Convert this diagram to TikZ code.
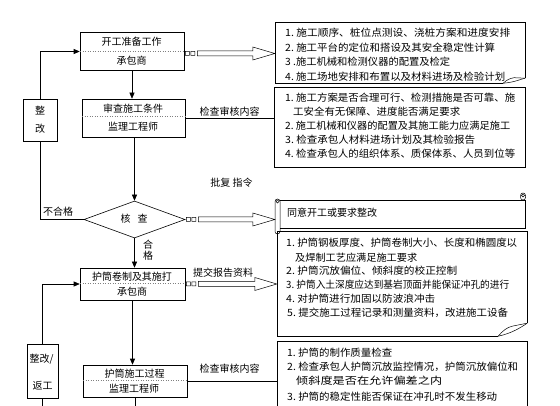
\documentclass[tikz,border=0pt]{standalone}
\usepackage{fontspec}
\setmainfont{Noto Sans CJK SC}
\usepackage{graphicx}
\usetikzlibrary{arrows.meta,shapes.geometric,calc}
\newcommand\fitto[2]{\resizebox{#1}{\height}{#2}}
\newcommand\hollowarrow[2]{%
  \draw[line width=0.5pt] let \p1=(#1), \p2=(#2) in
    (\x1+1pt,\y1-2pt) rectangle (\x1+5pt,\y1+2pt)
    (\x1+6.5pt,\y1-2pt) rectangle (\x1+10.5pt,\y1+2pt)
    (\x1+13pt,\y1+2.5pt) -- (\x2-22pt,\y1+2.5pt) -- (\x2-22pt,\y1+6.5pt) -- (\x2,\y1)
    -- (\x2-22pt,\y1-6.5pt) -- (\x2-22pt,\y1-2.5pt) -- (\x1+13pt,\y1-2.5pt) -- cycle;}
\tikzset{
  box/.style={draw, line width=0.6pt, inner sep=0pt},
  frame/.style={draw=none, inner sep=0pt},
  lbl/.style={font=\fontsize{10}{11}\selectfont, inner sep=0pt},
  ltxt/.style={font=\fontsize{10}{12}\selectfont, anchor=west, inner sep=0pt},
  arr/.style={-{Triangle[length=6pt,width=5pt]}, line width=0.6pt},
  ln/.style={line width=0.6pt},
  div/.style={gray, dotted, line width=0.5pt},
}
\begin{document}
\begin{tikzpicture}[x=1pt,y=-1pt]
\useasboundingbox (0,0) rectangle (560,406);
\clip (0,0) rectangle (560,406);
\fill[white] (0,0) rectangle (560,406);

% ---------- left column boxes ----------
\node[box, minimum width=104pt, minimum height=38pt] (A) at (132,51.5) {};
\draw[div] (80,51) -- (184,51);
\node[lbl] (A1) at (131.5,42) {开工准备工作};
\node[lbl] (A2) at (131.5,61) {承包商};

\node[box, minimum width=103pt, minimum height=38pt] (B) at (133.5,118) {};
\draw[div] (82,116) -- (185,116);
\node[lbl] (B1) at (133,108.5) {审查施工条件};
\node[lbl] (B2) at (133,127) {监理工程师};

\node[box, minimum width=34pt, minimum height=42pt] (Z1) at (40,120) {};
\node[lbl] (Z1a) at (40,111) {整};
\node[lbl] (Z1b) at (40,128.5) {改};

\node[box, shape=diamond, minimum width=101pt, minimum height=37pt, aspect=2.73] (Dm) at (134.5,219.5) {};
\node[lbl] (Dmt) at (134,219) {核\hspace{7pt}查};

\node[box, minimum width=105pt, minimum height=32pt] (C) at (132.5,284) {};
\draw[div] (80,283) -- (185,283);
\node[lbl] (C1) at (132,276.5) {护筒卷制及其施打};
\node[lbl] (C2) at (132,292) {承包商};

\node[box, minimum width=104pt, minimum height=32pt] (D) at (135,381) {};
\draw[div] (83,380) -- (187,380);
\node[lbl] (D1) at (134.5,373.5) {护筒施工过程};
\node[lbl] (D2) at (134,388.5) {监理工程师};

\node[box, minimum width=31pt, minimum height=54pt] (Z2) at (42.5,371) {};
\node[lbl] (Z2a) at (41.5,359) {整改/};
\node[lbl] (Z2b) at (42.5,386) {返工};

\coordinate (bot1) at (41,410);
\coordinate (bot2) at (135,410);

% ---------- left connectors ----------
\draw[arr] (A.south) -- (A.south |- B.north);
\draw[arr] (Dm.north |- B.south) -- (Dm.north);
\draw[arr] (Dm.south) -- (Dm.south |- C.north);
\draw[arr] (C.south) -- (C.south |- D.north);
\draw[ln] (D.south) -- (D.south |- bot2);
\draw[ln] (Dm.west) -| (Z1.south);
\draw[arr] (Z1.north) |- (A.west);
\draw[arr] (Z2.north) |- (C.west);
\draw[ln] (Z2.south) -- (Z2.south |- bot1);

\node[lbl] (ng) at (58,212) {不合格};
\node[lbl, align=center, font=\fontsize{10}{10.5}\selectfont] (ok) at (148,250) {合\\格};

% ---------- right boxes ----------
\node[frame, minimum width=250pt, minimum height=60pt] (R1) at (400,53) {};
\draw[ln] (R1.south east) ++(0,-5) coordinate (r1y) (R1.south east) ++(-22,0) coordinate (r1x);
\draw[ln] (r1x) -- (R1.south west) -- (R1.north west) -- (R1.north east) -- (r1y);
\draw[line width=0.5pt] (r1x) .. controls ($(r1x)+(12,-1)$) and ($(r1y)+(-5,1)$) .. (r1y);
\draw[line width=0.5pt] (r1x) .. controls ($(r1x)+(4,-4)$) and ($(r1x)+(8,-5)$) .. ($(r1x)+(11,-5.5)$) -- (r1y);

\node[box, minimum width=251pt, minimum height=80pt] (R2) at (399.5,127) {};

\node[frame, minimum width=250pt, minimum height=33pt] (R3) at (400,214.5) {};
\draw[ln] (280,200) -- (525,200) -- (525,228) -- (280,228);
\draw[line width=0.5pt, rounded corners=2.5pt] (275,199) rectangle (280,234);
\draw[line width=0.5pt] (277.5,201.5) circle (1.6);
\draw[line width=0.5pt, rounded corners=2.5pt] (520.5,193) rectangle (525.5,200);
\draw[line width=0.5pt] (523,195.5) circle (1.6);

\node[frame, minimum width=250pt, minimum height=104pt] (R4) at (402,284) {};
\draw (R4.south east) ++(0,-13) coordinate (r4y) (R4.south east) ++(-29,0) coordinate (r4x);
\draw[ln] (r4x) -- (R4.south west) -- (R4.north west) -- (R4.north east) -- (r4y);
\draw[line width=0.5pt] (r4x) .. controls ($(r4x)+(14,-3)$) and ($(r4y)+(-6,4)$) .. (r4y);
\draw[line width=0.5pt] (r4x) .. controls ($(r4x)+(4,-5)$) and ($(r4x)+(9,-9)$) .. ($(r4x)+(14,-10)$) -- (r4y);

\node[box, minimum width=250pt, minimum height=90pt] (R5) at (402,386) {};

% ---------- right texts ----------
\node[ltxt] (t11) at (285,33) {\fitto{225pt}{1.\ 施工顺序、桩位点测设、浇桩方案和进度安排}};
\node[ltxt] (t12) at (285,47.5) {\fitto{210pt}{2.\ 施工平台的定位和搭设及其安全稳定性计算}};
\node[ltxt] (t13) at (285,62) {\fitto{165pt}{3 .施工机械和检测仪器的配置及检定}};
\node[ltxt] (t14) at (285,76.5) {\fitto{220pt}{4.\ 施工场地安排和布置以及材料进场及检验计划}};

\node[ltxt] (t21) at (285,97.5) {\fitto{230pt}{1.\ 施工方案是否合理可行、检测措施是否可靠、施}};
\node[ltxt] (t21b) at (293,112) {\fitto{167pt}{工安全有无保障、进度能否满足要求}};
\node[ltxt] (t22) at (285,125.5) {\fitto{225pt}{2.\ 施工机械和仪器的配置及其施工能力应满足施工}};
\node[ltxt] (t23) at (285,140) {\fitto{190pt}{3.\ 检查承包人材料进场计划及其检验报告}};
\node[ltxt] (t24) at (285,153.5) {\fitto{230pt}{4.\ 检查承包人的组织体系、质保体系、人员到位等}};

\node[ltxt] (t31) at (287,213) {同意开工或要求整改};

\node[ltxt] (t41) at (286,243) {\fitto{231pt}{1.\ 护筒钢板厚度、护筒卷制大小、长度和椭圆度以}};
\node[ltxt] (t41b) at (295,257.5) {\fitto{122pt}{及焊制工艺应满足施工要求}};
\node[ltxt] (t42) at (286,270.5) {\fitto{171pt}{2.\ 护筒沉放偏位、倾斜度的校正控制}};
\node[ltxt] (t43) at (286,285) {\fitto{223pt}{3.\ 护筒入土深度应达到基岩顶面并能保证冲孔的进行}};
\node[ltxt] (t44) at (286,298.5) {\fitto{149pt}{4.\ 对护筒进行加固以防波浪冲击}};
\node[ltxt] (t45) at (287,313) {\fitto{221pt}{5.\ 提交施工过程记录和测量资料，改进施工设备}};

\node[ltxt] (t51) at (287,353) {\fitto{105pt}{1.\ 护筒的制作质量检查}};
\node[ltxt] (t52) at (287,367) {\fitto{231pt}{2.\ 检查承包人护筒沉放监控情况，护筒沉放偏位和}};
\node[ltxt] (t52b) at (296,381) {\fitto{146pt}{倾斜度是否在允许偏差之内}};
\node[ltxt] (t53) at (287,396.5) {\fitto{210pt}{3.\ 护筒的稳定性能否保证在冲孔时不发生移动}};

% ---------- middle connectors ----------
\coordinate (aS) at ($(A.east)+(0,2)$);
\hollowarrow{aS}{R1.west}
\hollowarrow{Dm.east}{R3.west}
\hollowarrow{C.east}{R4.west}
\draw[ln] (B.east) -- (B.east -| R2.west);
\draw[ln] (D.east) -- (D.east -| R5.west);

\node[lbl] (m1) at (229.5,111.5) {检查审核内容};
\node[lbl] (m2) at (231.5,183) {批复 指令};
\node[lbl] (m3) at (223,273) {提交报告资料};
\node[lbl] (m4) at (229.5,369) {检查审核内容};
\end{tikzpicture}
\end{document}
